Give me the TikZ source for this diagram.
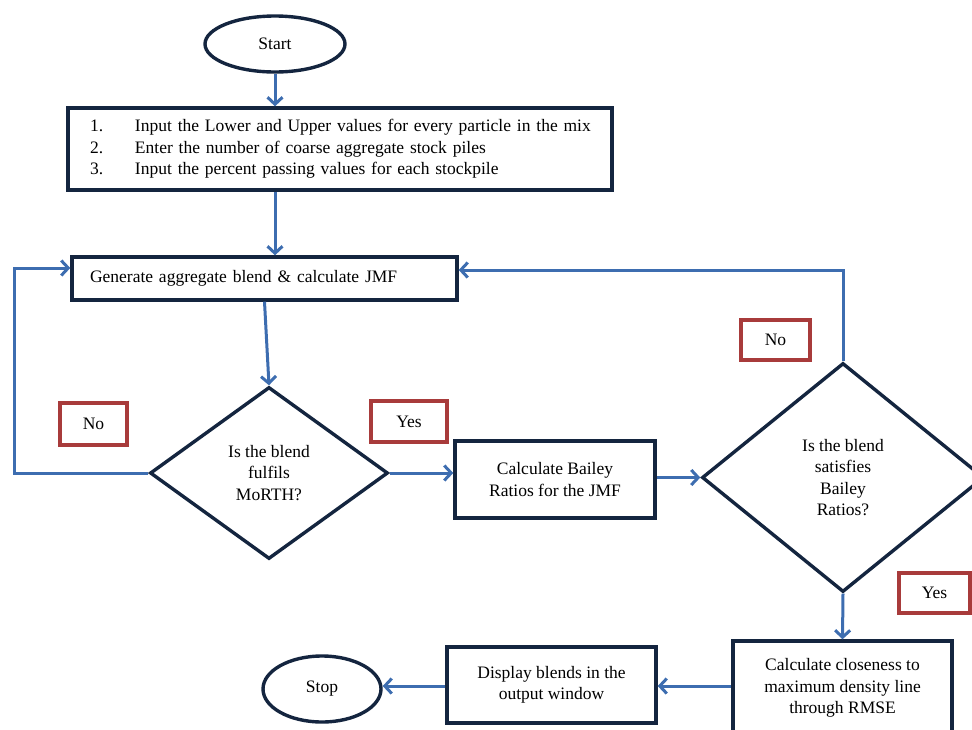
\documentclass[tikz,border=0pt]{standalone}
\usepackage{fontspec}
\setmainfont{Liberation Serif}
\usetikzlibrary{arrows.meta,shapes.geometric}
\definecolor{navy}{HTML}{14253F}
\definecolor{flow}{HTML}{3D6DB0}
\definecolor{lbl}{HTML}{A83B3B}
\newcommand\fsz{\fontsize{17.5}{21.5}\selectfont}
\newcommand\itemline[2]{\mbox{\makebox[45pt][l]{#1}#2}}
\begin{document}
\begin{tikzpicture}[x=1pt,y=-1pt,
  box/.style={draw=navy,line width=3.4pt,fill=white,inner sep=0pt,align=center,font=\fsz},
  term/.style={ellipse,draw=navy,line width=3.4pt,fill=white,inner sep=0pt,font=\fsz},
  decision/.style={diamond,draw=navy,line width=3.4pt,fill=white,inner sep=0pt,align=center,font=\fsz},
  lblbox/.style={draw=lbl,line width=3.2pt,fill=white,inner sep=0pt,font=\fsz},
  flowarrow/.style={draw=flow,line width=3pt,-{Straight Barb[length=7pt,width=15pt]}}
]
\useasboundingbox (0,0) rectangle (972,729);
\clip (0,0) rectangle (972,729);

\node[term,minimum width=140,minimum height=56] (start) at (275,44) {Start};
\node[box,minimum width=544,minimum height=82,text width=500,inner xsep=22,align=left] (box1) at (340,149)
  {\itemline{1.}{Input the Lower and Upper values for every particle in the mix}\\
   \itemline{2.}{Enter the number of coarse aggregate stock piles}\\
   \itemline{3.}{Input the percent passing values for each stockpile}};
\node[box,minimum width=385,minimum height=43,text width=349,inner xsep=18,align=left] (box2) at (264.5,278.5)
  {Generate aggregate blend \& calculate JMF};
\node[decision,minimum width=238,minimum height=172] (d1) at (269,473)
  {Is the blend\\fulfils\\MoRTH?};
\node[box,minimum width=200,minimum height=77] (box3) at (555,479.5)
  {Calculate Bailey\\Ratios for the JMF};
\node[decision,minimum width=282,minimum height=229] (d2) at (843,477.5)
  {Is the blend\\satisfies\\Bailey\\Ratios?};
\node[box,minimum width=219,minimum height=94] (box4) at (842.5,688)
  {Calculate closeness to\\maximum density line\\through RMSE};
\node[box,minimum width=209,minimum height=76] (box5) at (551.5,685)
  {Display blends in the\\output window};
\node[term,minimum width=118,minimum height=66] (stop) at (322,689) {Stop};

\node[lblbox,minimum width=67,minimum height=42] (no1) at (93.5,424) {No};
\node[lblbox,minimum width=76,minimum height=41] (yes1) at (409,421.5) {Yes};
\node[lblbox,minimum width=69,minimum height=40] (no2) at (775.5,340) {No};
\node[lblbox,minimum width=71,minimum height=40] (yes2) at (934.5,593) {Yes};

\draw[flowarrow] (start.south) -- (start.south |- box1.north);
\draw[flowarrow] (start.south |- box1.south) -- (start.south |- box2.north);
\draw[flowarrow] (box2.south) -- (d1.north);
\draw[flowarrow] (d1.west) -- (14,473) -- (14,268) -- (box2.west |- 0,268);
\draw[flowarrow] (d1.east) -- (d1.east -| box3.west);
\draw[flowarrow] (box3.east |- d2.west) -- (d2.west);
\draw[flowarrow] (d2.north) -- (843,270) -- (box2.east |- 0,270);
\draw[flowarrow] (d2.south) -- (box4.north);
\draw[flowarrow] (box4.west |- 0,686) -- (box5.east |- 0,686);
\draw[flowarrow] (box5.west |- 0,686) -- (stop.east |- 0,686);
\end{tikzpicture}
\end{document}
